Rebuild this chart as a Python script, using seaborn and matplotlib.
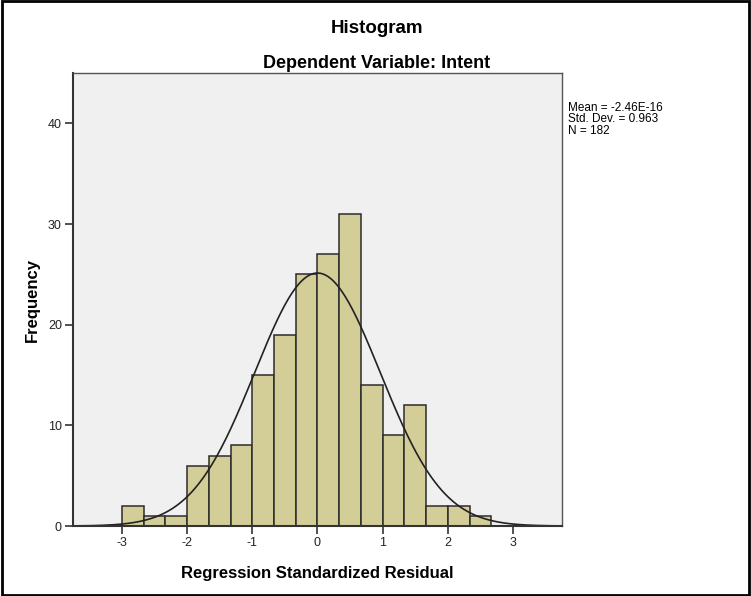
import numpy as np
import pandas as pd
import matplotlib
matplotlib.use("Agg")
import matplotlib.pyplot as plt
import seaborn as sns

# Regression standardized residuals, binned in steps of 1/3
bin_edges = [-3 + k / 3 for k in range(18)]
counts = [2, 1, 1, 6, 7, 8, 15, 19, 25, 27, 31, 14, 9, 12, 2, 2, 1]
mean_resid = -2.46e-16
sd_resid = 0.963
n_obs = 182
x_ticks = [-3, -2, -1, 0, 1, 2, 3]
y_ticks = [0, 10, 20, 30, 40]

sns.set_theme(style="white")
plt.rcParams["font.family"] = ["Liberation Sans", "DejaVu Sans"]
plt.rcParams["text.color"] = "black"
plt.rcParams["axes.labelcolor"] = "black"

centers = [(bin_edges[i] + bin_edges[i + 1]) / 2 for i in range(len(counts))]
df = pd.DataFrame({"resid": centers, "freq": counts})

fig = plt.figure(figsize=(7.51, 5.96), dpi=100)
ax = fig.add_axes([0.0972, 0.1174, 0.6511, 0.7601])
ax.set_facecolor("#F0F0F0")

sns.histplot(data=df, x="resid", weights="freq", bins=bin_edges, ax=ax,
             color="#D3CE97", alpha=1, edgecolor="#2b2b2b", linewidth=1.1)

# Normal curve scaled to the histogram
xs = np.linspace(-3.75, 3.75, 400)
bw = bin_edges[1] - bin_edges[0]
pdf = np.exp(-0.5 * ((xs - mean_resid) / sd_resid) ** 2) / (sd_resid * np.sqrt(2 * np.pi))
sns.lineplot(x=xs, y=n_obs * bw * pdf, ax=ax, color="#222222", linewidth=1.2)

ax.set_xlim(-3.75, 3.75)
ax.set_ylim(0, 45)
ax.set_xticks(x_ticks)
ax.set_xticklabels([str(t) for t in x_ticks])
ax.set_yticks(y_ticks)
ax.set_yticklabels([str(t) for t in y_ticks])
ax.tick_params(axis="both", direction="out", length=6, width=1.2, color="#333333",
               labelsize=9, labelcolor="#222222", pad=2,
               bottom=True, left=True)
for side in ["left", "bottom"]:
    ax.spines[side].set_color("#333333")
    ax.spines[side].set_linewidth(1.5)
for side in ["top", "right"]:
    ax.spines[side].set_color("#555555")
    ax.spines[side].set_linewidth(1.0)

ax.set_xlabel("Regression Standardized Residual", fontsize=12, fontweight="bold",
              labelpad=12, color="black")
ax.set_ylabel("Frequency", fontsize=12, fontweight="bold", labelpad=6, color="black")

fig.text(0.502, 0.953, "Histogram", ha="center", va="center", fontsize=13.5,
         fontweight="bold", color="black")
fig.text(0.502, 0.894, "Dependent Variable: Intent", ha="center", va="center",
         fontsize=13, fontweight="bold", color="black")

fig.text(0.756, 0.829, f"Mean = -2.46E-16\nStd. Dev. = {sd_resid:.3f}\nN = {n_obs}",
         ha="left", va="top", fontsize=8.5, linespacing=0.95, color="black")

# Outer frame
fig.patches.append(plt.Rectangle((0.002, 0.002), 0.996, 0.996, transform=fig.transFigure,
                                 fill=False, edgecolor="black", linewidth=2))

fig.savefig("out.png", dpi=100, facecolor="white")
